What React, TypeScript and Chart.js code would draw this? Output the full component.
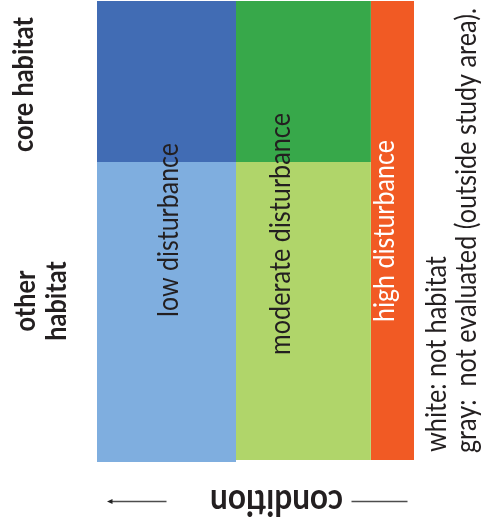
import React, { useEffect, useRef } from 'react';
import { Chart, registerables } from 'chart.js';

Chart.register(...registerables);

// ---- data ----
const disturbanceLabels = ['low disturbance', 'moderate disturbance', 'high disturbance'];
// extent of each disturbance class along the condition axis (0..100)
const disturbanceBounds = [0, 43.85, 86.4, 100];
const habitatLabels = ['core habitat', 'other habitat'];
// habitat axis (0 = bottom, 100 = top); core habitat spans split..100
const habitatSplit = 65.08;
const habitatTop = [100, 100, 100];
const habitatBottom = [0, 0.43, 0.43];
const coreColors = ['#416CB4', '#37A84A', '#F15A24'];
const otherColors = ['#7FAEDF', '#B0D56A', '#F15A24'];
const axisTitle = 'condition';
const noteLines = ['white: not habitat', 'gray:  not evaluated (outside study area).'];

const INK = '#231F20';
const FAMILY = 'Lato, "Open Sans", sans-serif';
const STRETCH = 1.15; // glyph height vs width ratio to mimic a narrower face

function fitSize(ctx: CanvasRenderingContext2D, text: string, weight: string, target: number) {
  ctx.font = `${weight} 100px ${FAMILY}`;
  const w = ctx.measureText(text).width;
  return (100 * target) / w;
}

function drawText(
  ctx: CanvasRenderingContext2D,
  text: string,
  x: number,
  y: number,
  angle: number,
  align: CanvasTextAlign,
  weight: string,
  size: number,
  color: string
) {
  ctx.save();
  ctx.translate(x, y);
  ctx.rotate(angle);
  ctx.scale(1 / STRETCH, 1);
  ctx.font = `${weight} ${size * STRETCH}px ${FAMILY}`;
  ctx.fillStyle = color;
  ctx.textAlign = align;
  ctx.textBaseline = 'alphabetic';
  ctx.fillText(text, 0, 0);
  ctx.restore();
}

const labelPlugin = {
  id: 'labelPlugin',
  afterDatasetsDraw(chart: any) {
    const ctx: CanvasRenderingContext2D = chart.ctx;
    const area = chart.chartArea;
    const xs = chart.scales.x;
    const ys = chart.scales.y;
    const up = -Math.PI / 2;

    // column labels
    const colShift = [11.5, -13.5, 1.5];
    const colYShift = [-1.5, 2.5, -0.5];
    const colTargets = [174, 242, 182];
    const midY = (area.top + area.bottom) / 2;
    disturbanceLabels.forEach((t, i) => {
      const cx = (xs.getPixelForValue(disturbanceBounds[i]) + xs.getPixelForValue(disturbanceBounds[i + 1])) / 2;
      const size = fitSize(ctx, t, '400', colTargets[i]);
      drawText(ctx, t, cx + colShift[i], midY + colYShift[i], up, 'center', '400', size, i === 2 ? '#FFFFFF' : INK);
    });

    // habitat labels
    const hSize = fitSize(ctx, habitatLabels[0], 'bold', 135);
    const coreMid = (ys.getPixelForValue(100) + ys.getPixelForValue(habitatSplit)) / 2;
    drawText(ctx, habitatLabels[0], area.left - 64, coreMid + 3, up, 'center', 'bold', hSize, INK);
    const otherMid = (ys.getPixelForValue(habitatSplit) + ys.getPixelForValue(0)) / 2;
    const parts = habitatLabels[1].split(' ');
    drawText(ctx, parts[0], area.left - 62, otherMid - 11, up, 'center', 'bold', hSize, INK);
    drawText(ctx, parts[1], area.left - 31, otherMid - 11, up, 'center', 'bold', hSize, INK);

    // note
    const nSize = fitSize(ctx, noteLines[1], '400', 445);
    drawText(ctx, noteLines[0], area.right + 32, area.bottom - 10, up, 'left', '400', nSize, INK);
    drawText(ctx, noteLines[1], area.right + 62, area.bottom - 9, up, 'left', '400', nSize, INK);

    // condition axis title (upside down)
    const cSize = fitSize(ctx, axisTitle, 'bold', 133);
    const cx = (area.left + area.right) / 2 + 21;
    drawText(ctx, axisTitle, cx, area.bottom + 28, Math.PI, 'center', 'bold', cSize, INK);

    // lines + arrow
    const ly = area.bottom + 39.5;
    ctx.save();
    ctx.strokeStyle = '#4D4D4D';
    ctx.fillStyle = '#222222';
    ctx.lineWidth = 1.3;
    ctx.beginPath();
    ctx.moveTo(cx + 75, ly);
    ctx.lineTo(cx + 131, ly);
    ctx.moveTo(cx - 110, ly);
    ctx.lineTo(cx - 166, ly);
    ctx.stroke();
    ctx.beginPath();
    ctx.moveTo(cx - 169.5, ly);
    ctx.lineTo(cx - 164, ly - 2.5);
    ctx.lineTo(cx - 164, ly + 2.5);
    ctx.closePath();
    ctx.fill();
    ctx.restore();
  },
};

export default function App() {
  const ref = useRef<HTMLCanvasElement>(null);
  useEffect(() => {
    if (!ref.current) return;
    const datasets: any[] = [];
    disturbanceLabels.forEach((lab, i) => {
      const x0 = disturbanceBounds[i];
      const x1 = disturbanceBounds[i + 1];
      if (coreColors[i] === otherColors[i]) {
        datasets.push({
          label: lab,
          data: [{ x: x0, y: habitatTop[i] }, { x: x1, y: habitatTop[i] }],
          backgroundColor: coreColors[i],
          fill: { value: habitatBottom[i] },
        });
      } else {
        datasets.push({
          label: lab + ' / core',
          data: [{ x: x0, y: habitatTop[i] }, { x: x1, y: habitatTop[i] }],
          backgroundColor: coreColors[i],
          fill: { value: habitatSplit },
        });
        datasets.push({
          label: lab + ' / other',
          data: [{ x: x0, y: habitatSplit }, { x: x1, y: habitatSplit }],
          backgroundColor: otherColors[i],
          fill: { value: habitatBottom[i] },
        });
      }
    });
    datasets.forEach((d) => {
      d.showLine = true;
      d.borderWidth = 0;
      d.borderColor = 'rgba(0,0,0,0)';
      d.pointRadius = 0;
      d.tension = 0;
    });
    const chart = new Chart(ref.current, {
      type: 'scatter',
      data: { datasets },
      options: {
        animation: false,
        responsive: false,
        events: [],
        layout: { padding: { left: 97, right: 75, top: 1, bottom: 60 } },
        scales: {
          x: { type: 'linear', min: 0, max: 100, display: false },
          y: { type: 'linear', min: 0, max: 100, display: false },
        },
        plugins: { legend: { display: false }, tooltip: { enabled: false } },
      },
      plugins: [labelPlugin],
    });
    return () => chart.destroy();
  }, []);
  return (
    <canvas
      ref={ref}
      width={489}
      height={522}
      style={{ position: 'absolute', left: 0, top: 0, width: 489, height: 522, background: '#FFFFFF' }}
    />
  );
}
